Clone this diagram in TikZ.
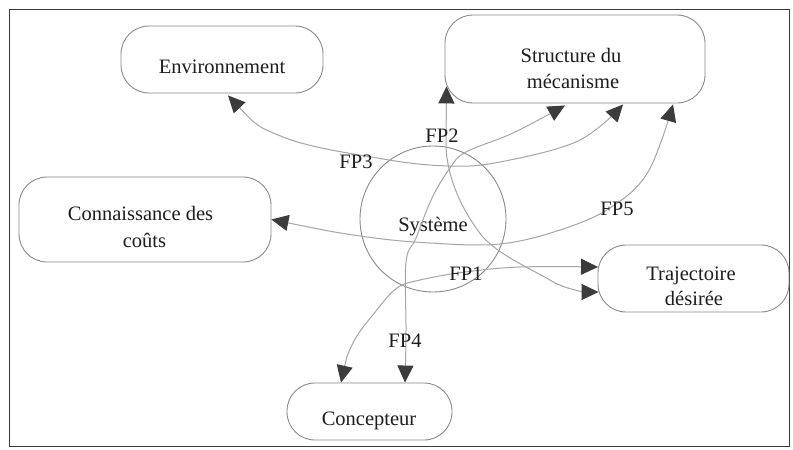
\documentclass[tikz,border=0pt]{standalone}
\usepackage{fontspec}
\setmainfont{Liberation Serif}
\usetikzlibrary{arrows.meta}
\definecolor{framec}{HTML}{3A3A3A}
\definecolor{boxc}{HTML}{8A8A8A}
\definecolor{linec}{HTML}{A5A5A5}
\definecolor{tipc}{HTML}{3C3C3C}
\definecolor{textc}{HTML}{1E1E1E}
\tikzset{tri/.tip={Triangle[length=17pt,width=16pt,color=tipc]}}
\begin{document}
\begin{tikzpicture}[x=1pt,y=-1pt,
  box/.style={draw=boxc, line width=0.9pt, rounded corners=28pt, inner sep=0pt},
  txt/.style={font=\fontsize{20.5}{26}\selectfont, text=textc, inner sep=0pt, anchor=base},
  conn/.style={draw=linec, line width=1pt, arrows={tri-tri}}]
\fill[white] (0,0) rectangle (793,450);
\useasboundingbox (0,0) rectangle (793,450);
\draw[framec, line width=1.8pt] (9.5,9.5) rectangle (789.5,446.5);

% boxes
\node[box, minimum width=202pt, minimum height=67pt] (env) at (222,59.5) {};
\node[box, minimum width=260pt, minimum height=88pt] (str) at (575,59) {};
\node[box, minimum width=252pt, minimum height=85pt] (con) at (145,219.5) {};
\node[box, minimum width=191pt, minimum height=67pt] (tra) at (693.5,278.5) {};
\node[box, minimum width=165pt, minimum height=57pt] (cpt) at (369.5,411.5) {};
\node[draw=boxc, line width=0.9pt, circle, minimum size=146pt, inner sep=0pt] (sys) at (433,219) {};

% texts
\node[txt] (envt) at (222,73) {Environnement};
\node[txt] (strt1) at (571,62) {Structure du};
\node[txt] (strt2) at (573,88) {mécanisme};
\node[txt] (cont1) at (140.5,220) {Connaissance des};
\node[txt] (cont2) at (144.5,247) {coûts};
\node[txt] (trat1) at (691,280) {Trajectoire};
\node[txt] (trat2) at (694,305) {désirée};
\node[txt] (cptt) at (369,425) {Concepteur};
\node[txt] (syst) at (433,231) {Système};

% connector end points
\coordinate (e3) at ([xshift=6pt,yshift=-2pt]env.south);
\coordinate (s2) at ([xshift=2pt,yshift=17pt]str.south west);
\coordinate (s4) at ([xshift=-10pt,yshift=-2pt]str.south);
\coordinate (s3) at ([xshift=48pt,yshift=-1pt]str.south);
\coordinate (s5) at ([xshift=98pt,yshift=-1pt]str.south);
\coordinate (c5) at (con.east);
\coordinate (t1) at ([xshift=0.5pt,yshift=11.5pt]tra.west);
\coordinate (t2) at ([xshift=1pt,yshift=-13.5pt]tra.west);
\coordinate (k1) at ([xshift=-28.5pt]cpt.north);
\coordinate (k4) at ([xshift=35.5pt]cpt.north);

% connectors
\draw[conn] plot[smooth, tension=0.6] coordinates {(e3) (283,137) (383,159) (450,166) (500,162) (578,141) (s3)};
\draw[conn] plot[smooth, tension=0.6] coordinates {(c5) (360,236) (430,243) (500,244) (560,230) (610,208) (648,172) (s5)};
\draw[conn] plot[smooth, tension=0.6] coordinates {(k1) (353,343) (376,311) (397,288) (420,280) (465,272) (520,267) (t1)};
\draw[conn] plot[smooth, tension=0.6] coordinates {(k4) (406,330) (406,262) (416,238) (432,198) (450,168) (466,152) (513,133) (s4)};
\draw[conn] (s2) -- (446,148) .. controls (448,180) and (462,210) .. (482,236)
  .. controls (500,256) and (530,268) .. (555,283) .. controls (570,290) and (585,292) .. (t2);

% labels
\node[txt] (fp1) at (466,280) {FP1};
\node[txt] (fp2) at (442,142) {FP2};
\node[txt] (fp3) at (356,168) {FP3};
\node[txt] (fp4) at (405,347) {FP4};
\node[txt] (fp5) at (617,215) {FP5};
\end{tikzpicture}
\end{document}
